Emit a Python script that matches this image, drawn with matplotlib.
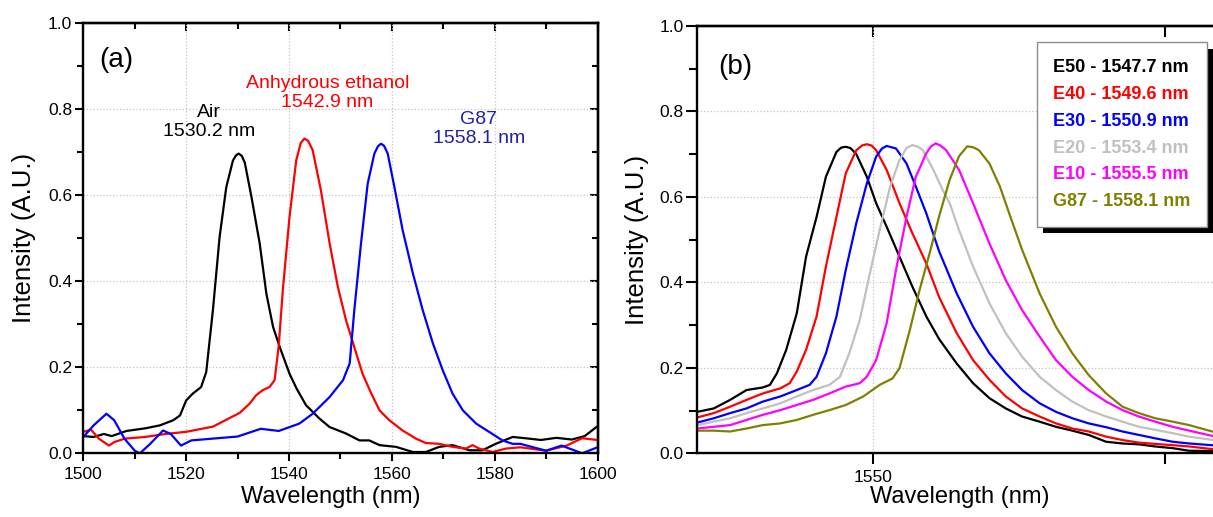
import matplotlib
matplotlib.use("Agg")
import matplotlib.pyplot as plt
import matplotlib.patheffects as pe
from matplotlib.ticker import FixedLocator, NullFormatter

plt.rcParams['font.family'] = ['Liberation Sans', 'DejaVu Sans']

# ---- panel (a): air / anhydrous ethanol / G87 ----
air_wl = [1500.0, 1502.0, 1504.0, 1505.5, 1508.4, 1512.0, 1514.9, 1517.5, 1518.8, 1520.0,
          1521.3, 1522.9, 1523.9, 1525.2, 1526.5, 1527.8, 1529.1, 1529.7, 1530.2, 1530.8,
          1531.4, 1532.7, 1534.3, 1535.6, 1536.9, 1538.2, 1540.1, 1541.5, 1543.3, 1545.9,
          1547.9, 1551.1, 1553.7, 1555.6, 1557.6, 1560.8, 1564.1, 1566.6, 1569.2, 1571.8,
          1575.1, 1577.6, 1580.2, 1583.5, 1586.0, 1589.0, 1592.0, 1595.0, 1597.5, 1600.0]
air_int = [0.040, 0.038, 0.045, 0.040, 0.052, 0.058, 0.065, 0.077, 0.088, 0.123,
           0.139, 0.154, 0.189, 0.333, 0.503, 0.619, 0.681, 0.693, 0.697, 0.692,
           0.676, 0.596, 0.488, 0.371, 0.294, 0.247, 0.185, 0.150, 0.112, 0.081,
           0.061, 0.046, 0.030, 0.030, 0.019, 0.015, 0.003, 0.003, 0.015, 0.019,
           0.007, 0.007, 0.022, 0.038, 0.035, 0.031, 0.036, 0.032, 0.040, 0.063]

eth_wl = [1500.0, 1501.5, 1503.0, 1505.0, 1506.0, 1508.0, 1512.0, 1516.0, 1520.0, 1525.2,
          1527.8, 1530.4, 1532.3, 1533.6, 1534.9, 1536.2, 1537.2, 1538.0, 1538.8, 1540.1,
          1541.4, 1542.3, 1543.0, 1543.7, 1544.6, 1546.2, 1547.9, 1549.5, 1551.1, 1552.7,
          1554.3, 1556.0, 1557.6, 1559.5, 1562.1, 1564.7, 1566.6, 1569.2, 1571.8, 1574.4,
          1575.7, 1577.0, 1579.6, 1582.2, 1585.0, 1590.0, 1594.0, 1597.0, 1600.0]
eth_int = [0.050, 0.055, 0.034, 0.018, 0.026, 0.034, 0.038, 0.045, 0.050, 0.062,
           0.078, 0.094, 0.115, 0.135, 0.147, 0.154, 0.170, 0.250, 0.380, 0.550,
           0.681, 0.722, 0.732, 0.727, 0.705, 0.612, 0.488, 0.387, 0.309, 0.247,
           0.185, 0.139, 0.100, 0.077, 0.053, 0.034, 0.024, 0.022, 0.015, 0.011,
           0.019, 0.011, 0.003, 0.011, 0.014, 0.006, 0.018, 0.035, 0.031]

g87a_wl = [1500.0, 1502.0, 1504.5, 1506.0, 1508.0, 1510.0, 1511.0, 1513.0, 1515.5, 1517.0,
           1519.0, 1521.0, 1525.0, 1530.0, 1534.5, 1538.0, 1542.0, 1544.6, 1547.9, 1550.5,
           1551.8, 1552.7, 1554.0, 1555.3, 1556.6, 1557.3, 1557.9, 1558.5, 1559.2, 1560.5,
           1562.1, 1564.1, 1566.0, 1568.0, 1569.9, 1571.8, 1573.8, 1576.4, 1578.9, 1581.5,
           1583.5, 1585.0, 1590.0, 1593.0, 1597.0, 1600.0]
g87a_int = [0.038, 0.065, 0.092, 0.077, 0.034, 0.006, 0.000, 0.022, 0.053, 0.045,
            0.018, 0.030, 0.034, 0.039, 0.057, 0.052, 0.069, 0.092, 0.131, 0.170,
            0.209, 0.333, 0.488, 0.627, 0.697, 0.714, 0.720, 0.715, 0.697, 0.619,
            0.519, 0.418, 0.333, 0.255, 0.193, 0.139, 0.100, 0.069, 0.050, 0.030,
            0.022, 0.022, 0.006, 0.018, 0.000, 0.014]

# ---- panel (b): ethanol / gasoline mixtures ----
e50_wl = [1535.0, 1536.4, 1537.8, 1539.2, 1540.6, 1541.2, 1541.8, 1542.6, 1543.5, 1544.3,
          1545.2, 1546.0, 1546.9, 1547.3, 1547.7, 1548.1, 1548.6, 1549.5, 1550.3, 1551.2,
          1552.3, 1553.4, 1554.6, 1555.7, 1557.2, 1558.6, 1560.0, 1561.4, 1562.8, 1564.3,
          1565.7, 1567.1, 1568.5, 1570.0, 1571.4, 1572.8, 1574.2, 1575.7, 1577.1, 1580.0]
e50_int = [0.097, 0.105, 0.125, 0.148, 0.154, 0.160, 0.187, 0.242, 0.327, 0.460,
           0.553, 0.647, 0.705, 0.715, 0.717, 0.714, 0.700, 0.647, 0.585, 0.530,
           0.460, 0.390, 0.320, 0.267, 0.210, 0.164, 0.129, 0.105, 0.086, 0.074,
           0.062, 0.053, 0.043, 0.027, 0.023, 0.021, 0.016, 0.012, 0.006, 0.005]

e40_wl = [1535.0, 1536.4, 1537.8, 1539.2, 1540.6, 1542.1, 1542.9, 1543.5, 1544.3, 1545.2,
          1546.0, 1546.9, 1547.7, 1548.6, 1549.1, 1549.5, 1549.9, 1550.3, 1551.2, 1552.3,
          1553.4, 1554.6, 1555.7, 1557.2, 1558.6, 1560.0, 1561.4, 1562.8, 1564.3, 1565.7,
          1567.1, 1568.5, 1570.0, 1571.4, 1572.8, 1574.2, 1575.7, 1577.1, 1580.0]
e40_int = [0.084, 0.094, 0.109, 0.125, 0.140, 0.152, 0.164, 0.191, 0.242, 0.320,
           0.437, 0.553, 0.655, 0.709, 0.720, 0.723, 0.720, 0.709, 0.663, 0.585,
           0.515, 0.444, 0.365, 0.281, 0.218, 0.172, 0.133, 0.105, 0.086, 0.070,
           0.058, 0.051, 0.039, 0.031, 0.025, 0.022, 0.019, 0.016, 0.007]

e30_wl = [1535.0, 1536.4, 1537.8, 1539.2, 1540.6, 1542.1, 1543.5, 1544.6, 1545.2, 1546.0,
          1546.9, 1547.7, 1548.6, 1549.5, 1550.3, 1550.8, 1551.2, 1552.0, 1552.9, 1553.7,
          1554.6, 1555.7, 1557.2, 1558.6, 1560.0, 1561.4, 1562.8, 1564.3, 1565.7, 1567.1,
          1568.5, 1570.0, 1571.4, 1572.8, 1574.2, 1575.7, 1577.1, 1580.0]
e30_int = [0.072, 0.082, 0.094, 0.105, 0.121, 0.133, 0.148, 0.160, 0.179, 0.234,
           0.320, 0.429, 0.538, 0.631, 0.694, 0.713, 0.719, 0.713, 0.678, 0.624,
           0.561, 0.472, 0.374, 0.296, 0.234, 0.187, 0.148, 0.117, 0.097, 0.082,
           0.070, 0.061, 0.051, 0.043, 0.035, 0.027, 0.023, 0.017]

e20_wl = [1535.0, 1536.4, 1537.8, 1539.2, 1540.6, 1542.1, 1543.5, 1544.9, 1546.3, 1547.2,
          1548.0, 1548.9, 1549.7, 1550.6, 1551.5, 1552.3, 1552.9, 1553.4, 1553.9, 1554.3,
          1555.2, 1556.0, 1556.6, 1557.4, 1558.6, 1560.0, 1561.4, 1562.8, 1564.3, 1565.7,
          1567.1, 1568.5, 1570.0, 1571.4, 1572.8, 1574.2, 1575.7, 1577.1, 1580.0]
e20_int = [0.066, 0.074, 0.082, 0.094, 0.105, 0.117, 0.133, 0.148, 0.160, 0.179,
           0.234, 0.312, 0.413, 0.522, 0.624, 0.686, 0.714, 0.721, 0.717, 0.709,
           0.663, 0.616, 0.585, 0.522, 0.437, 0.351, 0.281, 0.226, 0.179, 0.148,
           0.121, 0.101, 0.086, 0.074, 0.062, 0.055, 0.047, 0.039, 0.028]

e10_wl = [1535.0, 1536.4, 1537.8, 1539.2, 1540.6, 1542.1, 1543.5, 1544.9, 1546.3, 1547.7,
          1548.9, 1549.5, 1550.3, 1551.2, 1552.0, 1552.9, 1553.7, 1554.6, 1555.0, 1555.4,
          1555.8, 1556.3, 1557.4, 1558.6, 1560.0, 1561.4, 1562.8, 1564.3, 1565.7, 1567.1,
          1568.5, 1570.0, 1571.4, 1572.8, 1574.2, 1575.7, 1577.1, 1580.0]
e10_int = [0.058, 0.062, 0.066, 0.078, 0.090, 0.101, 0.113, 0.125, 0.140, 0.156,
           0.164, 0.179, 0.218, 0.304, 0.429, 0.553, 0.647, 0.702, 0.718, 0.725,
           0.720, 0.709, 0.663, 0.585, 0.491, 0.405, 0.335, 0.273, 0.218, 0.179,
           0.148, 0.121, 0.101, 0.086, 0.074, 0.062, 0.053, 0.035]

g87b_wl = [1535.0, 1536.4, 1537.8, 1539.2, 1540.6, 1542.1, 1543.5, 1544.9, 1546.3, 1547.7,
           1549.2, 1550.6, 1551.7, 1552.3, 1553.2, 1554.0, 1554.9, 1555.7, 1556.6, 1557.4,
           1558.1, 1558.6, 1559.1, 1560.0, 1560.9, 1561.7, 1562.8, 1564.3, 1565.7, 1567.1,
           1568.5, 1570.0, 1571.4, 1572.8, 1574.2, 1575.7, 1577.1, 1580.0]
g87b_int = [0.053, 0.053, 0.051, 0.058, 0.066, 0.070, 0.078, 0.090, 0.101, 0.113,
            0.133, 0.160, 0.175, 0.199, 0.290, 0.380, 0.470, 0.555, 0.640, 0.695,
            0.718, 0.716, 0.709, 0.678, 0.624, 0.561, 0.476, 0.374, 0.296, 0.234,
            0.183, 0.140, 0.109, 0.094, 0.082, 0.074, 0.066, 0.044]

labels_b = ["E50 - 1547.7 nm", "E40 - 1549.6 nm", "E30 - 1550.9 nm",
            "E20 - 1553.4 nm", "E10 - 1555.5 nm", "G87 - 1558.1 nm"]
colors_b = ["black", "#ff0000", "#0000ff", "#c0c0c0", "#ff00ff", "#808000"]

SPINE_W = 1.7
LINE_W = 1.6
GRID = dict(color="#c4c4c4", linestyle=":", linewidth=0.9)


def style_axes(ax, xmajor, xminor, ymajor, yminor, maj_len, min_len, right=True):
    ax.set_xticks(xmajor)
    ax.xaxis.set_minor_locator(FixedLocator(xminor))
    ax.set_yticks(ymajor, labels=[f"{v:.1f}" for v in ymajor])
    ax.yaxis.set_minor_locator(FixedLocator(yminor))
    for s in ax.spines.values():
        s.set_linewidth(SPINE_W)
    ax.tick_params(which="both", direction="out", top=False, right=False,
                   width=1.5, labelsize=12.5)
    ax.tick_params(which="major", length=maj_len)
    ax.tick_params(which="minor", length=min_len)
    ax.tick_params(axis="x", pad=4)
    ax.tick_params(axis="y", pad=2)

    # top (and right) axes carry inward ticks only
    top = ax.secondary_xaxis("top")
    top.set_xticks(xmajor)
    top.xaxis.set_minor_locator(FixedLocator(xminor))
    top.xaxis.set_major_formatter(NullFormatter())
    top.tick_params(which="both", direction="in", width=1.5)
    top.tick_params(which="major", length=maj_len)
    top.tick_params(which="minor", length=min_len)
    top.spines["top"].set_linewidth(SPINE_W)
    if right:
        rt = ax.secondary_yaxis("right")
        rt.set_yticks(ymajor)
        rt.yaxis.set_minor_locator(FixedLocator(yminor))
        rt.yaxis.set_major_formatter(NullFormatter())
        rt.tick_params(which="both", direction="in", width=1.5)
        rt.tick_params(which="major", length=maj_len)
        rt.tick_params(which="minor", length=min_len)
        rt.spines["right"].set_linewidth(SPINE_W)


fig = plt.figure(figsize=(12.13, 5.17), dpi=100)
fig.patch.set_facecolor("white")

# ---------------- panel (a) ----------------
ax_a = fig.add_axes([0.0687, 0.1232, 0.4239, 0.8317])
ax_a.plot(air_wl, air_int, color="black", lw=LINE_W)
ax_a.plot(eth_wl, eth_int, color="#ff0000", lw=LINE_W)
ax_a.plot(g87a_wl, g87a_int, color="#0000ff", lw=LINE_W)
ax_a.set_xlim(1500, 1600)
ax_a.set_ylim(0, 1.0)
style_axes(ax_a, [1500, 1520, 1540, 1560, 1580, 1600],
           [1510, 1530, 1550, 1570, 1590],
           [0.0, 0.2, 0.4, 0.6, 0.8, 1.0], [0.1, 0.3, 0.5, 0.7, 0.9], 6, 4.5)
ax_a.grid(True, which="major", **GRID)
ax_a.set_axisbelow(True)
ax_a.set_xlabel("Wavelength (nm)", fontsize=17, va="center")
ax_a.set_ylabel("Intensity (A.U.)", fontsize=18.5, va="center")
ax_a.xaxis.set_label_coords(0.482, -0.1016)
ax_a.yaxis.set_label_coords(-0.115, 0.5)

ax_a.text(1506.5, 0.915, "(a)", fontsize=20, ha="center", va="center")
ax_a.text(1524.5, 0.77, "Air\n1530.2 nm", fontsize=14, ha="center", va="center",
          color="black", linespacing=1.15)
ax_a.text(1547.5, 0.838, "Anhydrous ethanol\n1542.9 nm", fontsize=14, ha="center",
          va="center", color="#ff0000", linespacing=1.15)
ax_a.text(1576.9, 0.755, "G87\n1558.1 nm", fontsize=14, ha="center", va="center",
          color="#2020a8", linespacing=1.15)

# ---------------- panel (b) ----------------
ax_b = fig.add_axes([0.5750, 0.1232, 0.4332, 0.8269])
series_b = [(e50_wl, e50_int), (e40_wl, e40_int), (e30_wl, e30_int),
            (e20_wl, e20_int), (e10_wl, e10_int), (g87b_wl, g87b_int)]
lines_b = []
for (wl, it), lab, col in zip(series_b, labels_b, colors_b):
    ln, = ax_b.plot(wl, it, color=col, lw=LINE_W, label=lab)
    lines_b.append(ln)
ax_b.set_xlim(1535, 1580)
ax_b.set_ylim(0, 1.0)
style_axes(ax_b, [1550, 1575], [],
           [0.0, 0.2, 0.4, 0.6, 0.8, 1.0], [0.1, 0.3, 0.5, 0.7, 0.9], 8, 5.5,
           right=False)
ax_b.set_xticklabels(["1550", ""])
ax_b.grid(True, which="major", **GRID)
ax_b.xaxis.get_major_ticks()[1].gridline.set_visible(False)
ax_b.set_axisbelow(True)
ax_b.set_xlabel("Wavelength (nm)", fontsize=17, va="center")
ax_b.set_ylabel("Intensity (A.U.)", fontsize=18.5, va="center")
ax_b.xaxis.set_label_coords(0.5, -0.102)
ax_b.yaxis.set_label_coords(-0.115, 0.5)
ax_b.text(1538.2, 0.904, "(b)", fontsize=20, ha="center", va="center")

leg = ax_b.legend(handles=lines_b, loc="upper left", bbox_to_anchor=(0.6466, 0.961),
                  borderaxespad=0, handlelength=0, handletextpad=0, borderpad=0.9,
                  labelspacing=0.55, prop={"weight": "bold", "size": 13},
                  frameon=True, fancybox=False, edgecolor="#8c8c8c", framealpha=1)
for h in leg.legend_handles:
    h.set_visible(False)
for t, col in zip(leg.get_texts(), colors_b):
    t.set_color(col)
frame = leg.get_frame()
frame.set_linewidth(1.0)
frame.set_path_effects([pe.SimplePatchShadow(offset=(4.5, -4.5), shadow_rgbFace="black",
                                             alpha=1.0), pe.Normal()])

fig.savefig("out.png", dpi=100)
